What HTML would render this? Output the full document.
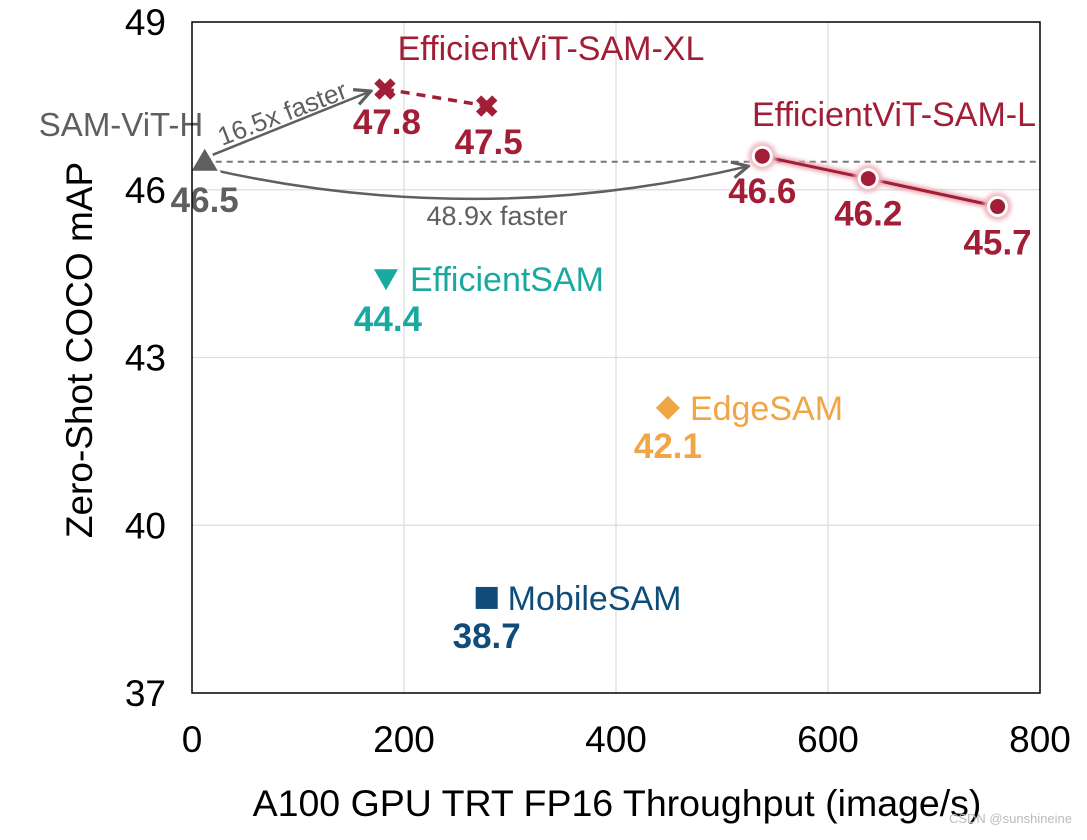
<!DOCTYPE html>
<html><head><meta charset="utf-8"><style>
body{margin:0;background:#fff;width:1087px;height:835px;overflow:hidden;font-family:"Liberation Sans",Arial,sans-serif}
</style></head><body>
<svg id="chart" width="1087" height="835" xmlns="http://www.w3.org/2000/svg" font-family="Liberation Sans, Arial, sans-serif">
<defs>
<marker id="arr" viewBox="0 0 10 10" refX="9" refY="5" markerWidth="8" markerHeight="8" orient="auto"><path d="M1,1 L9,5 L1,9" fill="none" stroke="#5f5f5f" stroke-width="1.6"/></marker>
<filter id="glow"><feGaussianBlur stdDeviation="2"/></filter>
</defs>
<g id="grid"></g>
<g id="marks"></g>
<rect x="192" y="22" width="848" height="671" fill="none" stroke="#000" stroke-width="1.5"/>
<g id="ticks"></g>
<text x="617" y="816" font-size="37.5" text-anchor="middle">A100 GPU TRT FP16 Throughput (image/s)</text>
<text transform="translate(92,350) rotate(-90)" font-size="37" text-anchor="middle">Zero-Shot COCO mAP</text>
<text x="1072" y="823" font-size="13" fill="#bbb" text-anchor="end">CSDN @sunshineine</text>
</svg>
<script>
const xTicks=[0,200,400,600,800];
const yTicks=[37,40,43,46,49];
const xlX=[182,278]; const xlY=[47.8,47.5];
const lX=[538,638,760]; const lY=[46.6,46.2,45.7];
const samX=[12], samY=[46.5];
const effX=[183], effY=[44.4];
const edgeX=[449], edgeY=[42.1];
const mobX=[278], mobY=[38.7];
const X=v=>192+v*848/800;
const Y=v=>693-(v-37)*671/12;
const NS='http://www.w3.org/2000/svg';
function mk(p,tag,at,txt){const e=document.createElementNS(NS,tag);for(const k in at)e.setAttribute(k,at[k]);if(txt!==undefined)e.textContent=txt;document.getElementById(p).appendChild(e);return e;}
xTicks.forEach(t=>{
 if(t>0&&t<800){const g=mk('grid','line',{x1:X(t),x2:X(t),y1:22,y2:693,stroke:'#ddd','stroke-width':1.2});
 
 }
 const l=mk('ticks','text',{x:X(t),y:752,'font-size':37,'text-anchor':'middle'},t);
 
 
});
yTicks.forEach(t=>{
 if(t>37&&t<49){const g=mk('grid','line',{x1:192,x2:1040,y1:Y(t),y2:Y(t),stroke:'#ddd','stroke-width':1.2});
 
 }
 const l=mk('ticks','text',{x:166,y:Y(t)+13,'font-size':37,'text-anchor':'end'},t);
 
 
});
let r=mk('marks','line',{x1:X(samX[0]),x2:1040,y1:Y(samY[0]),y2:Y(samY[0]),stroke:'#777','stroke-width':2,'stroke-dasharray':'6,5'});


let a1=mk('marks','line',{x1:X(samX[0])+8,y1:Y(samY[0])-7,x2:X(xlX[0])-14,y2:Y(xlY[0])+2,stroke:'#5f5f5f','stroke-width':2.5,'marker-end':'url(#arr)'});


let sx=X(samX[0])+8,sy=Y(samY[0])+8,ex=X(lX[0])-14,ey=Y(lY[0])+10;
let a2=mk('marks','path',{d:`M${sx},${sy} Q${(sx+ex)/2},${sy+60} ${ex},${ey}`,fill:'none',stroke:'#5f5f5f','stroke-width':2.5,'marker-end':'url(#arr)'});


let t1=mk('marks','text',{x:0,y:0,'font-size':26,fill:'#5f5f5f',transform:`translate(222,146) rotate(-21)`},'16.5x faster');


let t2=mk('marks','text',{x:497,y:225,'font-size':27,fill:'#5f5f5f','text-anchor':'middle'},'48.9x faster');


const red='#a21e36';
let xl=mk('marks','polyline',{points:xlX.map((v,i)=>X(v)+','+Y(xlY[i])).join(' '),fill:'none',stroke:red,'stroke-width':3.5,'stroke-dasharray':'9,7'});


xlX.forEach((v,i)=>{
 const c=mk('marks','text',{x:X(v),y:Y(xlY[i])+11,'font-size':30,'font-weight':'bold',fill:red,'text-anchor':'middle'},'✖');
 
 
 const l=mk('marks','text',{x:X(v)+2,y:Y(xlY[i])+(i==0?45:48),'font-size':35,'font-weight':'bold',fill:red,'text-anchor':'middle'},xlY[i].toFixed(1));
 
 
});
let xn=mk('marks','text',{x:551,y:60,'font-size':34,fill:red,'text-anchor':'middle'},'EfficientViT-SAM-XL');


let lg=mk('marks','polyline',{points:lX.map((v,i)=>X(v)+','+Y(lY[i])).join(' '),fill:'none',stroke:'#e8a0ac','stroke-width':7,filter:'url(#glow)'});


let ll=mk('marks','polyline',{points:lX.map((v,i)=>X(v)+','+Y(lY[i])).join(' '),fill:'none',stroke:red,'stroke-width':3});


lX.forEach((v,i)=>{
 const h=mk('marks','circle',{cx:X(v),cy:Y(lY[i]),r:14,fill:'#f0b8c2',filter:'url(#glow)'});
 
 
 const c=mk('marks','circle',{cx:X(v),cy:Y(lY[i]),r:9,fill:red,stroke:'#fff','stroke-width':3});
 
 
 const l=mk('marks','text',{x:X(v),y:Y(lY[i])+(i==2?48:47),'font-size':35,'font-weight':'bold',fill:red,'text-anchor':'middle'},lY[i].toFixed(1));
 
 
});
let ln=mk('marks','text',{x:894,y:126,'font-size':34,fill:red,'text-anchor':'middle'},'EfficientViT-SAM-L');


{const x=X(samX[0]),y=Y(samY[0]);
 const p=mk('marks','path',{d:`M${x},${y-13} L${x+13},${y+9} L${x-13},${y+9} Z`,fill:'#5f5f5f',stroke:'#fff','stroke-width':4,'paint-order':'stroke'});
 
 
 const l=mk('marks','text',{x:x,y:y+50,'font-size':35,'font-weight':'bold',fill:'#5f5f5f','text-anchor':'middle'},samY[0].toFixed(1));
 
 
 const n=mk('marks','text',{x:121,y:136,'font-size':33,fill:'#5f5f5f','text-anchor':'middle'},'SAM-ViT-H');
 
 }
{const x=X(effX[0]),y=Y(effY[0]);
 const p=mk('marks','path',{d:`M${x-12},${y-10} L${x+12},${y-10} L${x},${y+11} Z`,fill:'#1aa9a0',stroke:'#fff','stroke-width':4,'paint-order':'stroke'});
 
 
 const l=mk('marks','text',{x:x+2,y:y+52,'font-size':35,'font-weight':'bold',fill:'#1aa9a0','text-anchor':'middle'},effY[0].toFixed(1));
 
 
 const n=mk('marks','text',{x:x+24,y:y+12,'font-size':34,fill:'#1aa9a0'},'EfficientSAM');
 
 }
{const x=X(edgeX[0]),y=Y(edgeY[0]);
 const p=mk('marks','path',{d:`M${x},${y-12} L${x+12},${y} L${x},${y+12} L${x-12},${y} Z`,fill:'#f0a646',stroke:'#fff','stroke-width':4,'paint-order':'stroke'});
 
 
 const l=mk('marks','text',{x:x,y:y+50,'font-size':35,'font-weight':'bold',fill:'#f0a646','text-anchor':'middle'},edgeY[0].toFixed(1));
 
 
 const n=mk('marks','text',{x:x+22,y:y+12,'font-size':34,fill:'#f0a646'},'EdgeSAM');
 
 }
{const x=X(mobX[0]),y=Y(mobY[0]);
 const p=mk('marks','rect',{x:x-11,y:y-11,width:22,height:22,fill:'#0f4c7a',stroke:'#fff','stroke-width':4,'paint-order':'stroke'});
 
 
 const l=mk('marks','text',{x:x,y:y+50,'font-size':35,'font-weight':'bold',fill:'#0f4c7a','text-anchor':'middle'},mobY[0].toFixed(1));
 
 
 const n=mk('marks','text',{x:x+21,y:y+12,'font-size':34,fill:'#0f4c7a'},'MobileSAM');
 
 }
</script>
</body></html>
